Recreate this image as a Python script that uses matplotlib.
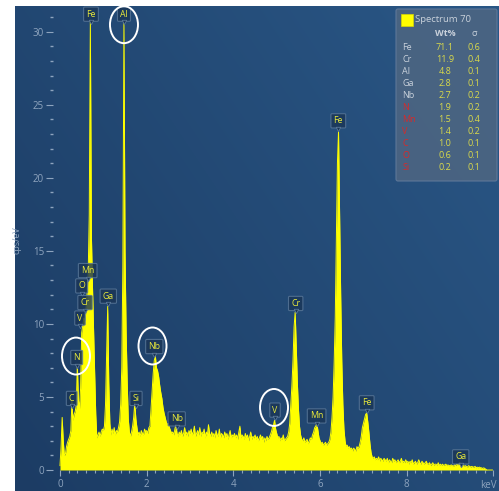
import numpy as np
import matplotlib
matplotlib.use("Agg")
import matplotlib.pyplot as plt
from matplotlib.patches import Ellipse, FancyBboxPatch, Rectangle
from matplotlib.ticker import FixedLocator
from matplotlib.transforms import offset_copy

plt.rcParams['font.family'] = ['Open Sans', 'DejaVu Sans']

# ---- EDS spectrum: counts per channel (cps/eV), 25 eV channels ----
channel_width_kev = 0.025

counts_0_2kev = [
    0.3, 1.6, 3.6, 2.0, 1.0, 1.1, 1.6, 1.9, 2.1, 2.3, 2.7, 4.7, 3.4, 3.8, 4.0, 4.4, 7.2, 4.8, 4.2, 5.6,
    9.4, 9.9, 10.4, 10.2, 11.0, 12.1, 13.4, 17.5, 30.8, 16.0, 12.5, 9.5, 6.5, 3.8, 2.2, 2.4, 2.6, 2.3, 2.6, 2.8,
    2.7, 3.0, 4.5, 8.0, 11.2, 6.0, 3.2, 2.4, 2.8, 2.5, 2.9, 2.4, 2.7, 2.6, 2.9, 3.3, 4.5, 7.0, 14.0, 30.6,
    15.0, 9.5, 6.0, 3.5, 2.6, 2.3, 2.6, 3.0, 3.6, 4.6, 3.5, 2.9, 2.4, 2.6, 2.3, 2.7, 2.5, 2.4, 2.8, 2.6,
]
counts_2_4kev = [
    2.7, 2.5, 2.9, 3.0, 4.2, 5.5, 6.6, 7.5, 7.8, 7.0, 6.8, 6.4, 5.8, 5.3, 4.9, 4.3, 3.9, 3.6, 3.3, 3.1,
    3.2, 2.9, 2.7, 2.5, 2.6, 2.4, 2.8, 3.1, 2.5, 2.3, 2.6, 2.4, 2.7, 2.3, 2.5, 2.9, 2.4, 2.6, 2.3, 2.7,
    2.5, 2.8, 2.4, 2.6, 3.0, 2.3, 2.5, 2.7, 2.4, 2.9, 2.3, 2.6, 2.5, 2.8, 2.2, 2.6, 2.4, 3.1, 2.5, 2.3,
    2.6, 2.3, 2.5, 2.2, 2.7, 2.4, 2.3, 2.8, 2.2, 2.5, 2.4, 2.2, 2.6, 2.3, 2.5, 2.1, 2.4, 2.7, 2.2, 2.4,
]
counts_4_6kev = [
    2.3, 2.5, 2.2, 2.4, 2.1, 2.6, 3.0, 2.2, 2.4, 2.3, 2.1, 2.5, 2.2, 2.4, 2.0, 2.3, 2.6, 2.1, 2.3, 2.2,
    2.4, 2.1, 2.3, 2.0, 2.2, 2.4, 2.1, 2.3, 1.9, 2.2, 2.0, 2.3, 2.1, 2.2, 2.4, 2.6, 2.9, 3.1, 3.4, 2.8,
    2.5, 2.2, 2.3, 2.0, 2.2, 2.1, 2.4, 2.0, 2.1, 2.2, 2.3, 2.6, 3.2, 4.5, 5.8, 7.5, 9.8, 10.8, 8.5, 6.0,
    4.2, 3.0, 2.4, 2.1, 2.0, 2.2, 1.9, 2.0, 2.1, 1.8, 2.0, 2.2, 2.1, 2.4, 2.6, 2.9, 3.0, 3.2, 2.7, 2.2,
]
counts_6_8kev = [
    2.0, 1.8, 1.9, 1.7, 1.8, 1.9, 1.7, 1.8, 1.9, 2.1, 2.6, 3.6, 5.0, 7.4, 10.5, 15.5, 21.0, 23.2, 17.5, 12.0,
    7.5, 4.5, 2.8, 2.0, 1.6, 1.7, 1.5, 1.6, 1.4, 1.5, 1.3, 1.5, 1.4, 1.3, 1.6, 1.5, 1.6, 1.9, 2.3, 2.9,
    3.2, 3.5, 3.8, 3.9, 3.3, 2.6, 1.8, 1.2, 0.9, 0.8, 0.9, 0.7, 0.8, 0.7, 0.9, 0.6, 0.8, 0.7, 0.6, 0.8,
    0.7, 0.6, 0.8, 0.5, 0.7, 0.6, 0.5, 0.8, 0.6, 0.7, 0.5, 0.6, 0.7, 0.5, 0.6, 0.8, 0.5, 0.6, 0.5, 0.7,
]
counts_8_10kev = [
    0.5, 0.6, 0.4, 0.6, 0.5, 0.7, 0.4, 0.5, 0.6, 0.4, 0.5, 0.7, 0.5, 0.4, 0.6, 0.5, 0.4, 0.5, 0.6, 0.4,
    0.4, 0.5, 0.3, 0.4, 0.5, 0.3, 0.4, 0.4, 0.3, 0.5, 0.3, 0.4, 0.3, 0.4, 0.3, 0.35, 0.4, 0.3, 0.35, 0.3,
    0.3, 0.35, 0.3, 0.25, 0.35, 0.3, 0.4, 0.35, 0.45, 0.5, 0.4, 0.35, 0.3, 0.25, 0.3, 0.25, 0.2, 0.3, 0.25, 0.2,
    0.25, 0.2, 0.2, 0.25, 0.15, 0.2, 0.15, 0.2, 0.15, 0.15, 0.1, 0.15, 0.1, 0.05, 0.0, 0.0, 0.0, 0.0, 0.0, 0.0,
]

# ---- peak identification labels ----
label_elements = ["Fe", "Al", "Mn", "O", "Cr", "V", "N", "C", "Ga", "Si", "Nb", "Nb",
                  "V", "Cr", "Mn", "Fe", "Fe", "Ga"]
label_energies = [0.715, 1.476, 0.639, 0.50, 0.577, 0.461, 0.385, 0.27, 1.114, 1.753, 2.175, 2.692,
                  4.96, 5.437, 5.92, 6.42, 7.075, 9.243]
label_heights = [31.2, 31.2, 13.65, 12.6, 11.46, 10.4, 7.7, 4.9, 11.9, 4.9, 8.45, 3.5,
                 4.1, 11.4, 3.7, 23.9, 4.6, 0.9]

# highlighted peaks (ellipse centres, keV / cps/eV)
circled_energies = [1.476, 0.369, 2.134, 4.937]
circled_heights = [30.48, 7.8, 8.49, 4.28]

# ---- quantification table ----
quant_elements = ["Fe", "Cr", "Al", "Ga", "Nb", "N", "Mn", "V", "C", "O", "Si"]
quant_wt = ["71.1", "11.9", "4.8", "2.8", "2.7", "1.9", "1.5", "1.4", "1.0", "0.6", "0.2"]
quant_sigma = ["0.6", "0.4", "0.1", "0.1", "0.2", "0.2", "0.4", "0.2", "0.1", "0.1", "0.1"]
quant_flagged = [False, False, False, False, False, True, True, True, True, True, True]

counts = np.array(counts_0_2kev + counts_2_4kev + counts_4_6kev + counts_6_8kev + counts_8_10kev)
energy = np.arange(counts.size) * channel_width_kev

W, H = 499, 491
fig = plt.figure(figsize=(W / 100, H / 100), dpi=100, facecolor='white')
ax = fig.add_axes([15 / W, 0, 484 / W, 485 / H])

# gradient backdrop
g = np.linspace(0, 1, 96)
GX, GY = np.meshgrid(g, g)
t = 0.6 * GX + 0.4 * GY
c0 = np.array([0x1c, 0x3c, 0x64]) / 255
c1 = np.array([0x2a, 0x57, 0x86]) / 255
ax.imshow(c0 + t[..., None] * (c1 - c0), extent=(0, 1, 0, 1), transform=ax.transAxes,
          origin='lower', aspect='auto', zorder=0, interpolation='bilinear')

ax.set_xlim(-1.038, 10.127)
ax.set_ylim(-1.437, 31.76)

yellow = '#ffff00'
ax.fill_between(energy, counts, 0, color=yellow, lw=0, zorder=2)
ax.plot(energy, counts, color=yellow, lw=0.7, zorder=2)

tick_color = '#8ea4be'
ax.spines['top'].set_visible(False)
ax.spines['right'].set_visible(False)
ax.spines['left'].set_position(('data', -0.16))
ax.spines['left'].set_color('none')
ax.spines['bottom'].set_position(('data', 0))
ax.spines['bottom'].set_color('none')

ax.set_xticks([0, 2, 4, 6, 8, 10])
ax.set_xticklabels(['0', '2', '4', '6', '8', ''])
ax.xaxis.set_minor_locator(FixedLocator(np.arange(0, 10.01, 0.2)))
ax.set_yticks(np.arange(0, 31, 5))
ax.yaxis.set_minor_locator(FixedLocator(np.arange(0, 32, 1)))

ax.tick_params(axis='both', which='both', colors=tick_color, labelcolor=tick_color,
               labelsize=7, direction='out')
ax.tick_params(axis='x', which='major', length=4, width=0.8, pad=2.5)
ax.tick_params(axis='x', which='minor', length=2.2, width=0.8)
ax.tick_params(axis='y', which='major', length=5, width=0.8, pad=1.5)
ax.tick_params(axis='y', which='minor', length=2.5, width=1.0)

ax.text(9.88, -1.05, 'keV', ha='center', va='center', fontsize=7, color=tick_color)
ax.set_ylabel('cps/eV', color=tick_color, fontsize=6.5)
ax.yaxis.set_label_coords(7 / 484, 0.5175)

# peak labels with pointer
pointer_tf = offset_copy(ax.transData, fig=fig, x=0, y=-8, units='dots')
for el, e, h in zip(label_elements, label_energies, label_heights):
    ax.text(e, h, el, ha='center', va='center', fontsize=6.3, color='#eaea3a', zorder=5,
            bbox=dict(boxstyle='round,pad=0.3,rounding_size=0.12', fc='#1a3556',
                      ec='#5a7899', lw=0.8, alpha=0.8))
    ax.plot(e, h, marker='v', ms=3.2, mfc='#1a3556', mec='#5a7899', mew=0.6,
            transform=pointer_tf, zorder=5)

for ce, ch in zip(circled_energies, circled_heights):
    ax.add_patch(Ellipse((ce, ch), 0.646, 2.53, fill=False, ec='white', lw=1.4, zorder=6))


# ---- quantification panel (figure pixel coordinates) ----
def px(x, y):
    return x / W, 1 - y / H


x0, y0 = px(396, 181)
x1, y1 = px(497, 9)
fig.patches.append(FancyBboxPatch((x0, y0), x1 - x0, y1 - y0, boxstyle='round,pad=0,rounding_size=0.004',
                                  transform=fig.transFigure, fc='#4a6482', ec='#60799a', lw=0.8,
                                  alpha=0.95, zorder=10))
sx, sy = px(400.5, 25.5)
fig.patches.append(Rectangle((sx, sy), 12 / W, 11 / H, transform=fig.transFigure,
                             fc=yellow, ec='#d8d800', lw=0.5, zorder=11))
grey = '#c9d1db'
fig.text(*px(415, 19.5), 'Spectrum 70', fontsize=6.8, color=grey, ha='left', va='center', zorder=12)
fig.text(*px(445, 33), 'Wt%', fontsize=6.5, color=grey, ha='center', va='center',
         fontweight='bold', zorder=12)
fig.text(*px(474, 33.5), 'σ', fontsize=6.5, color=grey, ha='center', va='center', zorder=12)

for i, (el, wt, sg, flag) in enumerate(zip(quant_elements, quant_wt, quant_sigma, quant_flagged)):
    yy = 47.7 + i * 11.94
    fig.text(*px(402.5, yy), el, fontsize=6.5, color='#d62a2a' if flag else grey,
             ha='left', va='center', zorder=12)
    fig.text(*px(445, yy), wt, fontsize=6.5, color='#dada4a', ha='center', va='center', zorder=12)
    fig.text(*px(474, yy), sg, fontsize=6.5, color='#dada4a', ha='center', va='center', zorder=12)

fig.savefig('out.png', dpi=100, facecolor='white')
